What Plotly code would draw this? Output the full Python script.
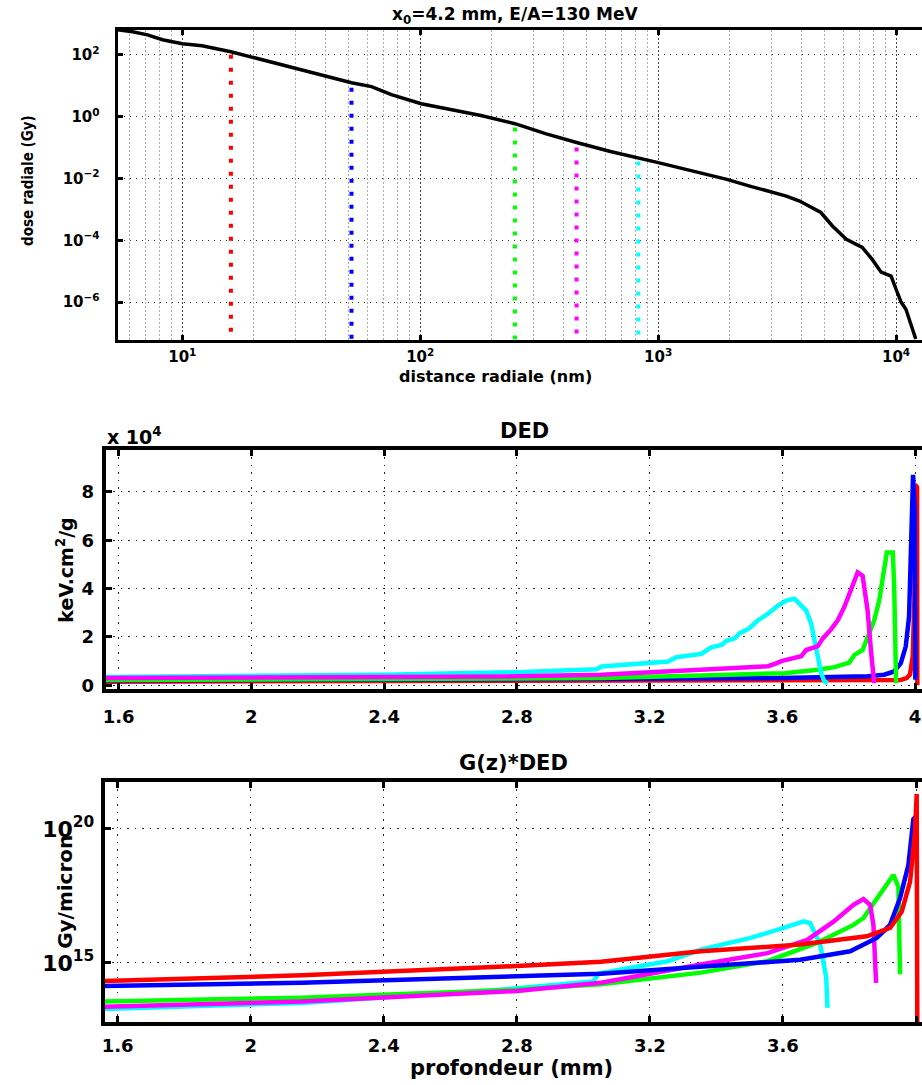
import plotly.graph_objects as go

# ---------------- Top panel: radial dose profile ----------------
dist_nm = [5.35, 6.18, 7.14, 8.25, 10, 12.1, 16.0, 21.6, 28.9, 38.5, 51.4, 62.4, 75.6,
           101, 135, 180, 250, 336, 454, 630, 991, 1500, 1945, 2427, 2944, 3459, 3930, 4460,
           4830, 5400, 6180, 7210, 7940, 8650, 9530, 10000, 10500, 11000, 11550, 12100]
dose_gy = [640, 552, 441, 305, 227, 195, 125, 69, 38, 21, 12.5, 9.3, 5.1,
           2.6, 1.68, 1.08, 0.59, 0.28, 0.145, 0.074, 0.033, 0.0153, 0.0093, 0.00565, 0.0039,
           0.00269, 0.00186, 0.00113, 7.9e-4, 2.9e-4, 1.07e-4, 5.9e-5, 2.4e-5, 9.3e-6, 6.9e-6,
           2.6e-6, 1.0e-6, 5.9e-7, 1.9e-7, 6.4e-8]

cut_nm = [16, 51.4, 250, 454, 825]
cut_top_gy = [100, 8.6, 0.44, 0.1, 0.035]
cut_bottom_gy = 5e-8
series_colors = ["#ff0000", "#0000ff", "#00ff00", "#ff00ff", "#00ffff"]

# ---------------- Middle panel: DED (units of 1e4 keV.cm2/g) ----------------
ded_red_x = [1.56, 2.0, 2.4, 2.8, 3.2, 3.6, 3.8, 3.9, 3.957, 3.975, 3.985, 3.993, 3.998, 4.0, 4.006, 4.007]
ded_red_y = [0.15, 0.16, 0.17, 0.18, 0.19, 0.2, 0.2, 0.2, 0.22, 0.3, 0.45, 1.2, 3.5, 8.3, 8.2, 0.0]

ded_blue_x = [1.56, 2.0, 2.4, 2.8, 3.2, 3.6, 3.857, 3.907, 3.937, 3.957, 3.972, 3.982, 3.987, 3.994, 3.999, 4.001]
ded_blue_y = [0.2, 0.21, 0.22, 0.24, 0.27, 0.3, 0.37, 0.44, 0.57, 0.91, 1.6, 2.83, 5.29, 8.7, 7.2, 0.23]

ded_green_x = [1.56, 2.0, 2.4, 2.8, 3.056, 3.356, 3.607, 3.707, 3.757, 3.802, 3.817, 3.842, 3.857,
               3.877, 3.892, 3.902, 3.915, 3.933, 3.937, 3.943]
ded_green_y = [0.22, 0.23, 0.25, 0.27, 0.3, 0.4, 0.5, 0.64, 0.75, 0.94, 1.25, 1.46, 2.0,
               2.69, 3.5, 4.47, 5.49, 5.49, 4.19, 0.09]

ded_magenta_x = [1.56, 2.0, 2.4, 2.8, 3.056, 3.256, 3.457, 3.557, 3.582, 3.597, 3.657, 3.672, 3.707,
                 3.722, 3.747, 3.767, 3.787, 3.802, 3.817, 3.827, 3.842, 3.857, 3.867, 3.877]
ded_magenta_y = [0.3, 0.31, 0.33, 0.37, 0.44, 0.57, 0.71, 0.79, 0.91, 1.0, 1.2, 1.46, 1.62,
                 1.94, 2.31, 2.69, 3.24, 3.78, 4.33, 4.67, 4.53, 3.10, 1.46, 0.09]

ded_cyan_x = [1.56, 2.0, 2.4, 2.8, 3.04, 3.056, 3.256, 3.281, 3.356, 3.386, 3.417, 3.432, 3.457, 3.47,
              3.50, 3.527, 3.557, 3.587, 3.612, 3.637, 3.657, 3.672, 3.687, 3.702, 3.717, 3.727, 3.737]
ded_cyan_y = [0.34, 0.38, 0.44, 0.54, 0.66, 0.78, 0.98, 1.16, 1.30, 1.57, 1.67, 1.84, 1.94, 2.14,
              2.35, 2.69, 2.96, 3.30, 3.50, 3.58, 3.30, 3.09, 2.55, 1.46, 0.50, 0.15, 0.09]

# ---------------- Bottom panel: G(z)*DED (Gy/micron) ----------------
gd_red_x = [1.56, 2.154, 2.8, 3.053, 3.353, 3.652, 3.852, 3.922, 3.957, 3.982, 3.997, 4.002, 4.004]
gd_red_y = [2.1e14, 3.4e14, 7.6e14, 1.1e15, 2.7e15, 4.8e15, 9.8e15, 2.0e16, 8.1e16, 1.05e18, 7.4e19, 2.0e21, 1e12]

gd_blue_x = [1.56, 2.154, 3.053, 3.353, 3.652, 3.802, 3.882, 3.922, 3.952, 3.977, 3.992, 3.997, 4.001]
gd_blue_y = [1.35e14, 1.8e14, 3.9e14, 7.4e14, 1.3e15, 2.7e15, 8.5e15, 2.6e16, 2.6e17, 4.4e18, 2.3e20, 2.7e20, 1e19]

gd_green_x = [1.56, 2.154, 2.8, 3.053, 3.353, 3.553, 3.702, 3.812, 3.842, 3.882, 3.932, 3.947, 3.952]
gd_green_y = [3.6e13, 5.0e13, 1.0e14, 1.6e14, 4.3e14, 1.15e15, 5.5e15, 2.6e16, 4.7e16, 2.6e17, 1.9e18, 6.9e17, 3.7e14]

gd_magenta_x = [1.56, 2.154, 2.8, 3.053, 3.353, 3.553, 3.673, 3.753, 3.812, 3.842, 3.862, 3.872, 3.880]
gd_magenta_y = [2.3e13, 3.6e13, 8.9e13, 1.8e14, 8.7e14, 2.3e15, 7.2e15, 3.5e16, 1.45e17, 2.4e17, 1.45e17, 2.6e16, 1.8e14]

gd_cyan_x = [1.56, 2.154, 2.75, 3.03, 3.045, 3.253, 3.353, 3.503, 3.602, 3.662, 3.682, 3.712, 3.730, 3.734]
gd_cyan_y = [1.9e13, 3.2e13, 1.0e14, 2.0e14, 4.0e14, 1.15e15, 3.1e15, 8.5e15, 2.0e16, 3.5e16, 3.0e16, 4.8e15, 2.8e14, 2.1e13]

depth_ticks = [1.6, 2, 2.4, 2.8, 3.2, 3.6, 4]
depth_ticktext = ["1.6", "2", "2.4", "2.8", "3.2", "3.6", "4"]
ded_ticks = [0, 2, 4, 6, 8]

FONT = "DejaVu Sans"

fig = go.Figure()

# top panel
fig.add_trace(go.Scatter(x=dist_nm, y=dose_gy, mode="lines", line=dict(color="black", width=3.5),
                         xaxis="x", yaxis="y", showlegend=False))
for cx, ct, col in zip(cut_nm, cut_top_gy, series_colors):
    fig.add_trace(go.Scatter(x=[cx, cx], y=[ct, cut_bottom_gy], mode="lines",
                             line=dict(color=col, width=4, dash="4px,9px"),
                             xaxis="x", yaxis="y", showlegend=False))

# middle panel
for xs, ys, col in [(ded_red_x, ded_red_y, "#ff0000"), (ded_blue_x, ded_blue_y, "#0000ff"),
                    (ded_green_x, ded_green_y, "#00ff00"), (ded_cyan_x, ded_cyan_y, "#00ffff"),
                    (ded_magenta_x, ded_magenta_y, "#ff00ff")]:
    fig.add_trace(go.Scatter(x=xs, y=ys, mode="lines", line=dict(color=col, width=4.5),
                             xaxis="x2", yaxis="y2", showlegend=False))

# bottom panel
for xs, ys, col in [(gd_cyan_x, gd_cyan_y, "#00ffff"), (gd_green_x, gd_green_y, "#00ff00"),
                    (gd_magenta_x, gd_magenta_y, "#ff00ff"), (gd_blue_x, gd_blue_y, "#0000ff"),
                    (gd_red_x, gd_red_y, "#ff0000")]:
    fig.add_trace(go.Scatter(x=xs, y=ys, mode="lines", line=dict(color=col, width=4.5),
                             xaxis="x3", yaxis="y3", showlegend=False))

W, H = 922, 1085


def py(p):
    return 1 - p / H


def px(p):
    return p / W


axis_common = dict(showline=True, linecolor="black", ticks="inside", tickcolor="black",
                   zeroline=False, showgrid=True)

dot_grid = dict(gridcolor="#222222", griddash="1.5px,6px", gridwidth=1.2)

fig.update_layout(
    width=W, height=H, autosize=False,
    margin=dict(l=0, r=0, t=0, b=0),
    paper_bgcolor="white", plot_bgcolor="white",
    xaxis=dict(**axis_common, type="log", range=[0.728, 4.109], domain=[px(115), 1],
               anchor="y", mirror="ticks", linewidth=3, ticklen=5, tickwidth=2.5,
               tickvals=[10, 100, 1000, 10000],
               ticktext=["10<sup>1</sup>", "10<sup>2</sup>", "10<sup>3</sup>", "10<sup>4</sup>"],
               tickfont=dict(family=FONT, size=15, weight="bold", color="black"),
               gridcolor="#444444", griddash="2px,2px", gridwidth=1,
               minor=dict(dtick="D1", showgrid=True, gridcolor="#aaaaaa", griddash="2px,2px",
                          gridwidth=1, ticks=""),
               ticklabelstandoff=1),
    yaxis=dict(**axis_common, type="log", range=[-7.23, 2.806], domain=[py(342), py(30)],
               anchor="x", mirror=False, linewidth=3, ticklen=5, tickwidth=2.5,
               tickvals=[1e-6, 1e-4, 1e-2, 1, 100],
               ticktext=["10<sup>−6</sup>", "10<sup>−4</sup>", "10<sup>−2</sup>", "10<sup>0</sup>", "10<sup>2</sup>"],
               tickfont=dict(family=FONT, size=15, weight="bold", color="black"),
               gridcolor="#333333", griddash="1px,5px", gridwidth=1,
               ticklabelstandoff=12),
    xaxis2=dict(**axis_common, **dot_grid, range=[1.561, 4.021], domain=[px(103), 1], anchor="y2",
                mirror="ticks", linewidth=4, ticklen=6, tickwidth=3,
                tickvals=depth_ticks, ticktext=depth_ticktext,
                tickfont=dict(family=FONT, size=18, weight="bold", color="black"),
                ticklabelstandoff=8),
    yaxis2=dict(**axis_common, **dot_grid, range=[-0.16, 9.75], domain=[py(693), py(452)], anchor="x2",
                mirror=False, linewidth=4, ticklen=6, tickwidth=3,
                tickvals=ded_ticks, ticktext=[str(t) for t in ded_ticks],
                tickfont=dict(family=FONT, size=18, weight="bold", color="black"),
                ticklabelstandoff=4),
    xaxis3=dict(**axis_common, **dot_grid, range=[1.561, 4.018], domain=[px(102), 1], anchor="y3",
                mirror="ticks", linewidth=4, ticklen=6, tickwidth=3,
                tickvals=depth_ticks, ticktext=depth_ticktext,
                tickfont=dict(family=FONT, size=18, weight="bold", color="black"),
                ticklabelstandoff=4),
    yaxis3=dict(**axis_common, **dot_grid, type="log", range=[12.78, 21.76], domain=[py(1028), py(786)],
                anchor="x3", mirror=False, linewidth=4, ticklen=6, tickwidth=3,
                tickvals=[1e15, 1e20], ticktext=["10<sup>15</sup>", "10<sup>20</sup>"],
                tickfont=dict(family=FONT, size=22, weight="bold", color="black"),
                ticklabelstandoff=2),
)


def ann(text, x, y, size, angle=0, family=FONT, xanchor="center"):
    fig.add_annotation(text=text, x=px(x), y=py(y), xref="paper", yref="paper",
                       showarrow=False, textangle=angle, xanchor=xanchor, yanchor="middle",
                       font=dict(family=family, size=size, color="black", weight="bold"))


ann("x<sub>0</sub>=4.2 mm, E/A=130 MeV", 514, 16, 17)
ann("distance radiale (nm)", 494, 379, 16)
ann("dose radiale (Gy)", 25, 181, 15, angle=-90,
    family="Liberation Sans Narrow, DejaVu Sans Condensed, Liberation Sans")
ann("DED", 523, 433, 21)
ann("x 10<sup>4</sup>", 102, 438, 19, xanchor="left")
ann("keV.cm<sup>2</sup>/g", 62, 573, 19, angle=-90)
ann("G(z)*DED", 512, 767, 21)
ann("Gy/micron", 62, 897, 20, angle=-90)
ann("profondeur (mm)", 510, 1074, 21)

fig.write_html("out.html", config={"displayModeBar": False},
               post_script="document.body.style.margin='0';")
